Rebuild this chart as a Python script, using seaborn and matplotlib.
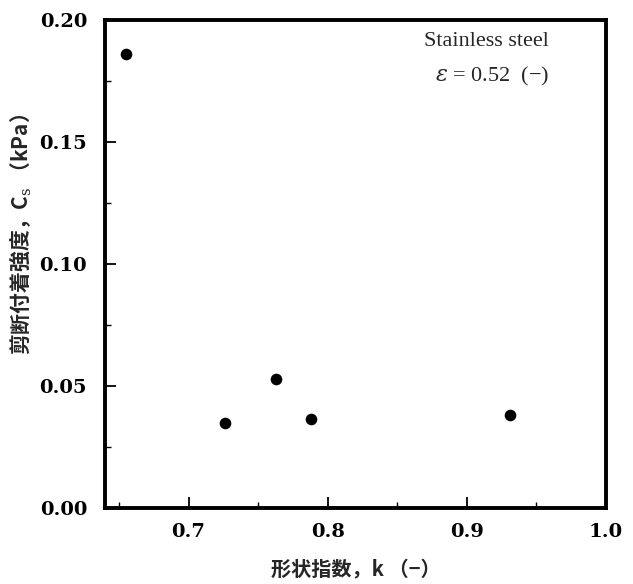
import matplotlib
matplotlib.use("Agg")
import matplotlib.pyplot as plt
from matplotlib.ticker import MultipleLocator
import seaborn as sns
import pandas as pd

shape_index_k = [0.655, 0.726, 0.763, 0.788, 0.931]
shear_strength_cs = [0.186, 0.0347, 0.0529, 0.0364, 0.0381]
x_ticks = [0.7, 0.8, 0.9, 1.0]
y_ticks = [0.00, 0.05, 0.10, 0.15, 0.20]

sns.set_theme(style="white")
plt.rcParams['font.family'] = ['DejaVu Serif', 'Noto Sans CJK JP', 'DejaVu Sans']
plt.rcParams['mathtext.fontset'] = 'dejavuserif'

df = pd.DataFrame({"k": shape_index_k, "cs": shear_strength_cs})

fig = plt.figure(figsize=(6.33, 5.84), dpi=100)
ax = fig.add_axes([0.166, 0.130, 0.791, 0.836])
sns.scatterplot(data=df, x="k", y="cs", ax=ax, color="black", s=70,
                edgecolor="black", linewidth=0, legend=False)

ax.set_xlim(0.64, 1.0)
ax.set_ylim(0.0, 0.20)
ax.set_xticks(x_ticks)
ax.set_yticks(y_ticks)
ax.set_xticklabels([f"{v:.1f}" for v in x_ticks])
ax.set_yticklabels([f"{v:.2f}" for v in y_ticks])
ax.xaxis.set_minor_locator(MultipleLocator(0.05))
ax.yaxis.set_minor_locator(MultipleLocator(0.025))
ax.tick_params(which="major", direction="in", length=8, width=1.3,
               labelsize=14, colors="black")
ax.tick_params(axis="y", which="major", pad=13)
ax.tick_params(axis="x", which="major", pad=11)
ax.tick_params(which="minor", direction="in", length=4, width=1.0, colors="black")
ax.tick_params(axis="both", which="both", bottom=True, left=True, top=False, right=False)
for lab in ax.get_xticklabels() + ax.get_yticklabels():
    lab.set_fontweight("bold")
    lab.set_family("DejaVu Serif")
for sp in ax.spines.values():
    sp.set_color("black")
    sp.set_linewidth(2.8)

cjk = ['Noto Sans CJK JP', 'DejaVu Sans']
ax.set_xlabel("形状指数，k （−）", fontsize=14.5, fontweight="bold",
              family=cjk, labelpad=12)
ax.set_ylabel("剪断付着強度，C$_\\mathrm{s}$ （kPa）", fontsize=15, fontweight="bold",
              family=cjk)
ax.yaxis.set_label_coords(-0.142, 0.56)

ax.text(0.762, 0.955, "Stainless steel", transform=ax.transAxes, ha="center",
        va="center", fontsize=16, family="Liberation Serif")
ax.text(0.772, 0.883, "$\\varepsilon$ = 0.52  (−)", transform=ax.transAxes, ha="center",
        va="center", fontsize=16, family="Liberation Serif")

fig.savefig("out.png", dpi=100)
